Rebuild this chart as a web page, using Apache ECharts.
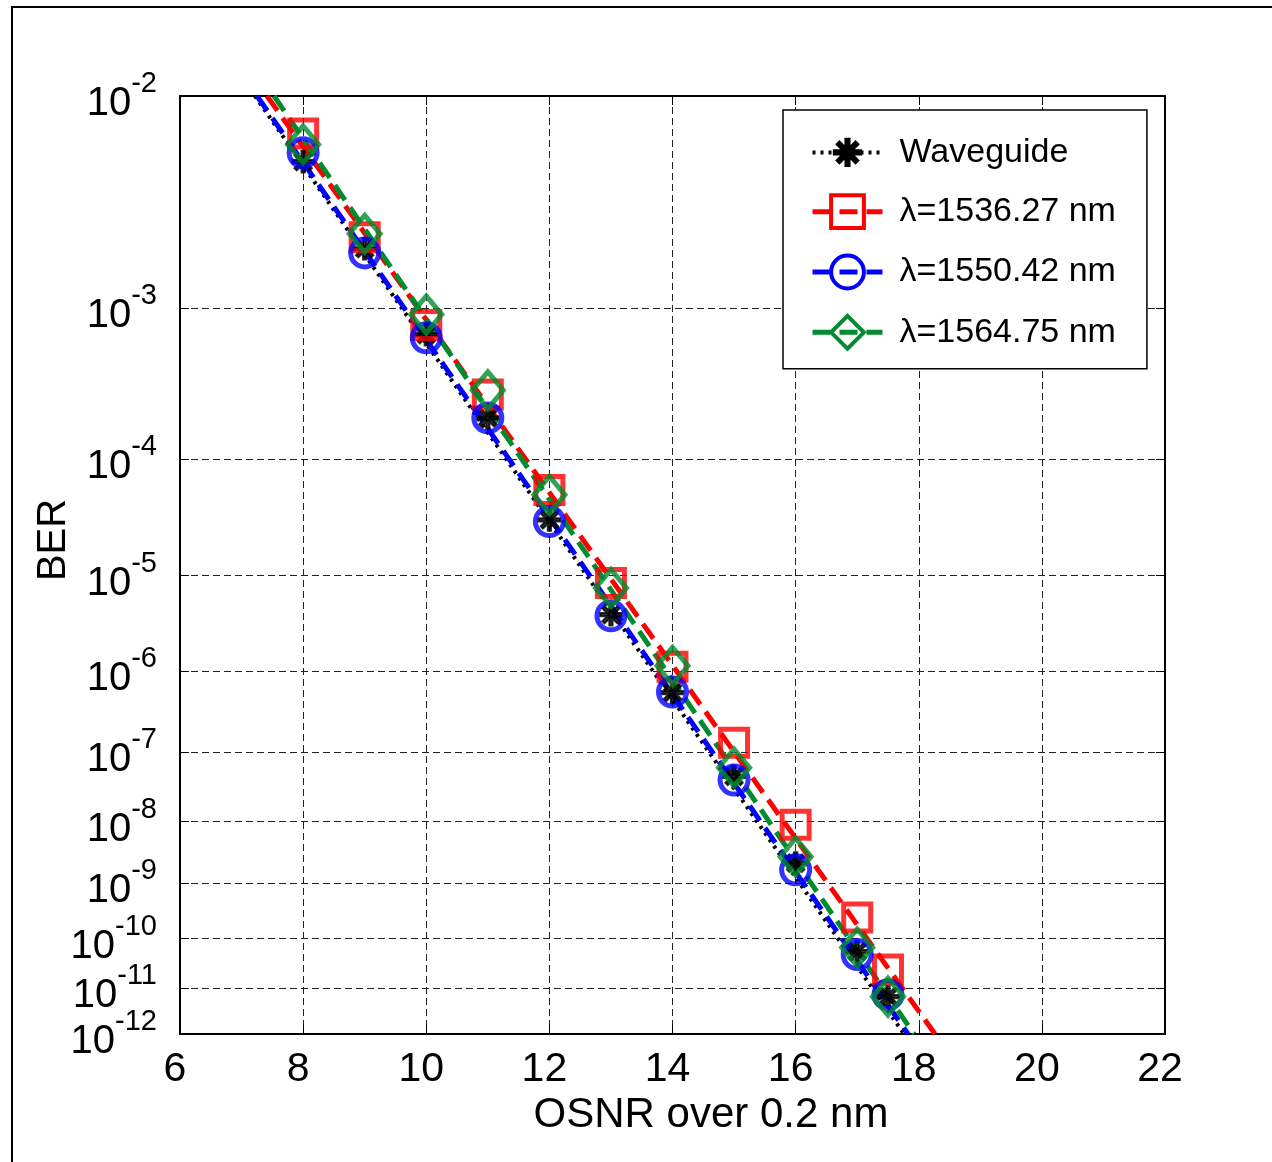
<!DOCTYPE html>
<html>
<head>
<meta charset="utf-8">
<script src="https://cdn.jsdelivr.net/npm/echarts@6/dist/echarts.min.js"></script>
<style>html,body{margin:0;padding:0;background:#fff}#c{width:1272px;height:1162px}</style>
</head>
<body>
<div id="c"></div>
<script>
// ---- data ----
const osnr = [8, 9, 10, 11, 12, 13, 14, 15, 16, 17, 17.5];
const berWaveguide = [5.4e-3, 2.1e-3, 7.0e-4, 2.0e-4, 3.2e-5, 4.1e-6, 5.6e-7, 4.6e-8, 2.2e-9, 5.6e-11, 6.7e-12];
const ber1536 = [7.1e-3, 2.4e-3, 8.0e-4, 2.9e-4, 5.7e-5, 8.5e-6, 1.12e-6, 1.32e-7, 9.0e-9, 2.47e-10, 2.45e-11];
const ber1550 = [5.9e-3, 2.0e-3, 6.7e-4, 2.0e-4, 3.1e-5, 4.0e-6, 5.7e-7, 4.1e-8, 1.7e-9, 4.9e-11, 7.4e-12];
const ber1564 = [6.4e-3, 2.5e-3, 9.2e-4, 3.1e-4, 5.2e-5, 7.6e-6, 1.15e-6, 6.1e-8, 2.8e-9, 6.7e-11, 6.7e-12];
// fitted lines: OSNR where each fit crosses the BER values in fitBer
const fitBer = [1e-2, 1e-12];
const fitWaveguide = [7.218, 17.761];
const fit1536 = [7.413, 18.264];
const fit1550 = [7.251, 17.826];
const fit1564 = [7.527, 17.923];
// tick labels
const xTicks = [6, 8, 10, 12, 14, 16, 18, 20, 22];
const berExponents = [2, 3, 4, 5, 6, 7, 8, 9, 10, 11, 12];
const names = ['Waveguide', 'λ=1536.27 nm', 'λ=1550.42 nm', 'λ=1564.75 nm'];

// ---- BER axis transform: log10(-log10(BER)) ----
const tf = b => Math.log10(-Math.log10(b));
const yTickVals = berExponents.map(e => Math.log10(e));
const yLabelsEven = berExponents.filter(e => e % 2 === 0).map(e => Math.log10(e));
const yLabelsOdd = berExponents.filter(e => e % 2 === 1).map(e => Math.log10(e));
const yMin = Math.log10(berExponents[0]);
const yMax = Math.log10(berExponents[berExponents.length - 1]);
const pairs = (xs, bs) => xs.map((x, i) => [x, tf(bs[i])]);

const FONT = "'Liberation Sans', Arial, sans-serif";
const asterisk = 'path://M-2,-2 M22,22 M8.5,0L11.5,0L11.5,20L8.5,20Z M0,8.5L20,8.5L20,11.5L0,11.5Z M2,4.1L4.1,2L18,15.9L15.9,18Z M15.9,2L18,4.1L4.1,18L2,15.9Z';

const styles = [
  {color: '#000000', symbol: asterisk, size: 26, dash: [3, 5], lw: 4, fill: '#000000', bw: 2},
  {color: '#ff0000', symbol: 'rect', size: 27, dash: [18, 9], lw: 5, fill: 'rgba(0,0,0,0)', bw: 5},
  {color: '#0000ff', symbol: 'circle', size: 28, dash: [18, 9], lw: 5, fill: 'rgba(0,0,0,0)', bw: 5},
  {color: '#008c2e', symbol: 'diamond', size: [31, 37], dash: [18, 9], lw: 5, fill: 'rgba(0,0,0,0)', bw: 5}
];
const markerData = [berWaveguide, ber1536, ber1550, ber1564];
const fitData = [fitWaveguide, fit1536, fit1550, fit1564];

const series = [];
names.forEach((n, i) => {
  const s = styles[i];
  series.push({
    name: n, type: 'line', data: pairs(fitData[i], fitBer), yAxisIndex: 0,
    symbol: s.symbol, showSymbol: false, symbolSize: s.size,
    lineStyle: {color: s.color, width: s.lw, type: s.dash},
    itemStyle: {color: s.color},
    silent: true, z: 2 + i, animation: false
  });
});
names.forEach((n, i) => {
  const s = styles[i];
  series.push({
    name: n, type: 'scatter', data: pairs(osnr, markerData[i]), yAxisIndex: 0,
    symbol: s.symbol, symbolSize: s.size,
    itemStyle: {color: s.fill, borderColor: s.color, borderWidth: s.bw},
    silent: true, z: 10 + i, animation: false
  });
});

const legendData = names.map((n, i) => ({
  name: n,
  itemStyle: {color: styles[i].fill, borderColor: styles[i].color, borderWidth: i === 0 ? 2 : 4},
  lineStyle: {color: styles[i].color, width: styles[i].lw, type: styles[i].dash}
}));

const berLabel = vals => ({
  customValues: vals, margin: 23, color: '#000',
  hideOverlap: false, showMinLabel: true, showMaxLabel: true,
  formatter: v => '{b|10}{s|-' + Math.round(Math.pow(10, v)) + '}',
  rich: {
    b: {fontFamily: FONT, fontSize: 40, lineHeight: 4, color: '#000', padding: [16, 0, 0, 0]},
    s: {fontFamily: FONT, fontSize: 29, lineHeight: 4, color: '#000', padding: [0, 0, 24, 0]}
  }
});

const gridLine = {show: true, lineStyle: {color: '#222', width: 1, type: [7, 4]}};
const chart = echarts.init(document.getElementById('c'), null, {renderer: 'canvas'});
chart.setOption({
  backgroundColor: '#fff',
  animation: false,
  textStyle: {fontFamily: FONT},
  graphic: [{type: 'rect', z: -10, silent: true, shape: {x: 12, y: 7, width: 1300, height: 1200},
    style: {fill: 'none', stroke: '#000', lineWidth: 2}}],
  grid: {left: 180, top: 96, width: 985, height: 938, show: false},
  legend: {
    orient: 'vertical', left: 783, top: 110,
    itemWidth: 70, itemHeight: 41, itemGap: 23.5,
    padding: [25, 31, 18, 27],
    backgroundColor: '#fff', borderColor: '#000', borderWidth: 1.5, borderRadius: 0,
    textStyle: {fontFamily: FONT, fontSize: 34, color: '#000', padding: [0, 0, 0, 12]},
    data: legendData, selectedMode: false
  },
  xAxis: [{
    type: 'value', min: 6, max: 22, interval: 2,
    name: 'OSNR over 0.2 nm', nameLocation: 'middle', nameGap: 60,
    nameTextStyle: {fontFamily: FONT, fontSize: 42, color: '#000', padding: [0, 0, 0, 77]},
    axisLine: {show: true, onZero: false, lineStyle: {color: '#000', width: 2}},
    axisTick: {show: true, inside: true, length: 9, lineStyle: {color: '#000', width: 1}},
    axisLabel: {fontFamily: FONT, fontSize: 41, color: '#000', margin: 15, padding: [0, 10, 0, 0],
      customValues: xTicks, formatter: v => String(v), hideOverlap: false},
    splitLine: gridLine
  }, {
    type: 'value', min: 6, max: 22, interval: 2, position: 'top',
    axisLine: {show: true, onZero: false, lineStyle: {color: '#000', width: 2}},
    axisTick: {show: true, inside: true, length: 9, lineStyle: {color: '#000', width: 1}},
    axisLabel: {show: false}, splitLine: {show: false}
  }],
  yAxis: [{
    type: 'value', inverse: true, min: yMin, max: yMax, position: 'left', offset: 0,
    name: 'BER', nameLocation: 'middle', nameGap: 106, nameRotate: 90, nameMoveOverlap: false,
    nameTextStyle: {fontFamily: FONT, fontSize: 40, color: '#000', padding: [0, 0, 0, 50]},
    axisLine: {show: true, onZero: false, lineStyle: {color: '#000', width: 2}},
    axisTick: {show: true, inside: true, length: 9, customValues: yTickVals, lineStyle: {color: '#000', width: 1}},
    axisLabel: berLabel(yLabelsEven),
    splitLine: gridLine
  }, {
    type: 'value', inverse: true, min: yMin, max: yMax, position: 'left', offset: 0,
    axisLine: {show: false, onZero: false},
    axisTick: {show: false, customValues: yLabelsOdd},
    axisLabel: berLabel(yLabelsOdd),
    splitLine: {show: false}
  }, {
    type: 'value', inverse: true, min: yMin, max: yMax, position: 'right', offset: 0,
    axisLine: {show: true, onZero: false, lineStyle: {color: '#000', width: 2}},
    axisTick: {show: true, inside: true, length: 9, customValues: yTickVals, lineStyle: {color: '#000', width: 1}},
    axisLabel: {show: false}, splitLine: {show: false}
  }],
  series: series
});
</script>
</body>
</html>
